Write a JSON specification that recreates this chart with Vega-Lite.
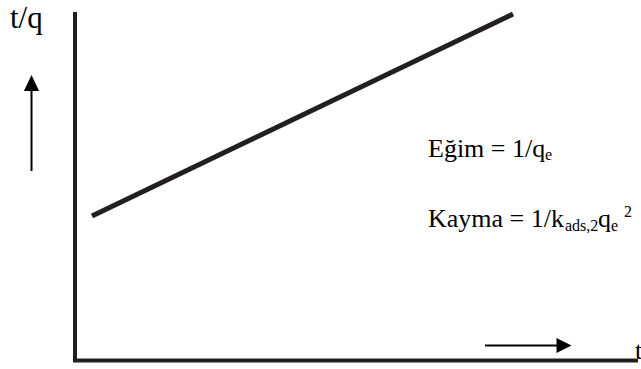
{
  "$schema": "https://vega.github.io/schema/vega-lite/v6.json",
  "width": 641,
  "height": 369,
  "padding": 0,
  "autosize": {"type": "none"},
  "background": "white",
  "config": {"view": {"stroke": null}},
  "datasets": {
    "segs": [
      {"kind": "axis", "x": 75, "y": 12, "x2": 75, "y2": 360},
      {"kind": "axis", "x": 73, "y": 360.5, "x2": 638, "y2": 360.5},
      {"kind": "line", "x": 92, "y": 216, "x2": 513, "y2": 14},
      {"kind": "shaft", "x": 31.5, "y": 171, "x2": 31.5, "y2": 88},
      {"kind": "shaft", "x": 485, "y": 345.5, "x2": 559, "y2": 345.5}
    ],
    "heads": [
      {"dir": "up", "x": 31.5, "y": 83},
      {"dir": "right", "x": 564, "y": 345.5}
    ],
    "texts": [
      {"role": "big", "label": "t/q", "x": 10, "y": 28},
      {"role": "main", "label": "Eğim = 1/q", "x": 428, "y": 157},
      {"role": "sub", "label": "e", "x": 545, "y": 160},
      {"role": "main", "label": "Kayma = 1/k", "x": 428, "y": 227},
      {"role": "sub", "label": "ads,2", "x": 565, "y": 231},
      {"role": "main", "label": "q", "x": 598, "y": 227},
      {"role": "sub", "label": "e", "x": 611, "y": 231},
      {"role": "sub", "label": "2", "x": 624, "y": 217},
      {"role": "main", "label": "t", "x": 635, "y": 359}
    ]
  },
  "layer": [
    {
      "data": {"name": "segs"},
      "transform": [{"filter": "datum.kind === 'axis'"}],
      "mark": {"type": "rule", "color": "#231f20", "strokeWidth": 4, "strokeCap": "butt"},
      "encoding": {
        "x": {"field": "x", "type": "quantitative", "scale": {"domain": [0, 641], "nice": false, "zero": false}, "axis": null},
        "y": {"field": "y", "type": "quantitative", "scale": {"domain": [0, 369], "nice": false, "zero": false, "reverse": true}, "axis": null},
        "x2": {"field": "x2"},
        "y2": {"field": "y2"}
      }
    },
    {
      "data": {"name": "segs"},
      "transform": [{"filter": "datum.kind === 'line'"}],
      "mark": {"type": "rule", "color": "#231f20", "strokeWidth": 5, "strokeCap": "butt"},
      "encoding": {
        "x": {"field": "x", "type": "quantitative"},
        "y": {"field": "y", "type": "quantitative"},
        "x2": {"field": "x2"},
        "y2": {"field": "y2"}
      }
    },
    {
      "data": {"name": "segs"},
      "transform": [{"filter": "datum.kind === 'shaft'"}],
      "mark": {"type": "rule", "color": "#000000", "strokeWidth": 2, "strokeCap": "butt"},
      "encoding": {
        "x": {"field": "x", "type": "quantitative"},
        "y": {"field": "y", "type": "quantitative"},
        "x2": {"field": "x2"},
        "y2": {"field": "y2"}
      }
    },
    {
      "data": {"name": "heads"},
      "transform": [{"filter": "datum.dir === 'up'"}],
      "mark": {"type": "point", "shape": "M0,-1L-0.95,1L0.95,1Z", "size": 256, "filled": true, "color": "#000000", "opacity": 1},
      "encoding": {
        "x": {"field": "x", "type": "quantitative"},
        "y": {"field": "y", "type": "quantitative"}
      }
    },
    {
      "data": {"name": "heads"},
      "transform": [{"filter": "datum.dir === 'right'"}],
      "mark": {"type": "point", "shape": "M1,0L-1,-1L-1,1Z", "size": 225, "filled": true, "color": "#000000", "opacity": 1},
      "encoding": {
        "x": {"field": "x", "type": "quantitative"},
        "y": {"field": "y", "type": "quantitative"}
      }
    },
    {
      "data": {"name": "texts"},
      "transform": [{"filter": "datum.role === 'big'"}],
      "mark": {"type": "text", "font": "'Liberation Serif', 'Times New Roman', serif", "fontSize": 31, "align": "left", "baseline": "alphabetic", "color": "#000000"},
      "encoding": {
        "x": {"field": "x", "type": "quantitative"},
        "y": {"field": "y", "type": "quantitative"},
        "text": {"field": "label"}
      }
    },
    {
      "data": {"name": "texts"},
      "transform": [{"filter": "datum.role === 'main'"}],
      "mark": {"type": "text", "font": "'Liberation Serif', 'Times New Roman', serif", "fontSize": 26, "align": "left", "baseline": "alphabetic", "color": "#000000"},
      "encoding": {
        "x": {"field": "x", "type": "quantitative"},
        "y": {"field": "y", "type": "quantitative"},
        "text": {"field": "label"}
      }
    },
    {
      "data": {"name": "texts"},
      "transform": [{"filter": "datum.role === 'sub'"}],
      "mark": {"type": "text", "font": "'Liberation Serif', 'Times New Roman', serif", "fontSize": 16, "align": "left", "baseline": "alphabetic", "color": "#000000"},
      "encoding": {
        "x": {"field": "x", "type": "quantitative"},
        "y": {"field": "y", "type": "quantitative"},
        "text": {"field": "label"}
      }
    }
  ]
}
